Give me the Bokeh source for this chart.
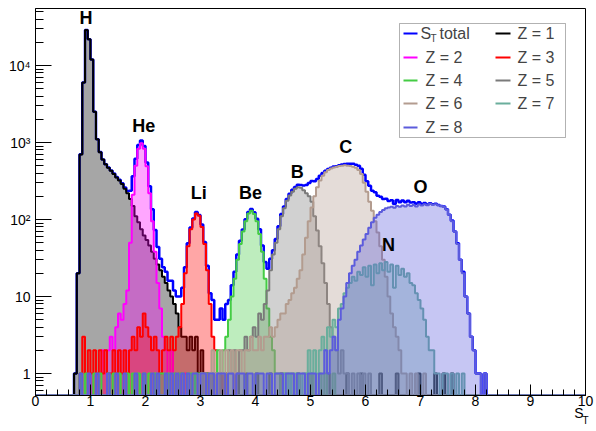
import numpy as np
from bokeh.plotting import figure
from bokeh.models import (Range1d, FixedTicker, SingleIntervalTicker, LinearAxis,
                          CustomJSTickFormatter, Label, BoxAnnotation)
from bokeh.embed import file_html
from bokeh.resources import INLINE
from bokeh.core.properties import value

# ---------------- data (bin width 0.05 in S_T, bins 0..10) ----------------
BIN_WIDTH = 0.05
N_BINS = 200

# Z = 1 (H), first bin starts at S_T = 0.65
z1_start = 13
z1_counts = [0, 1, 20, 700, 6000, 29000, 22000, 12000, 2500, 1100, 750, 600, 520, 470,
             430, 390, 350, 320, 290, 250, 220, 185, 150, 110, 92, 75, 62, 54, 46, 38,
             31, 26, 22, 18, 15, 12, 10, 8, 6, 4, 3, 3, 2, 3, 2, 3, 1, 2, 1, 1,
             0, 1, 0, 0, 1, 0, 1, 0, 0, 0, 1, 0, 0, 1, 0, 0, 0, 1, 0, 0, 0, 0, 1, 0,
             0, 0, 1, 0, 0, 0, 0, 0, 1, 0, 0, 0, 0, 1, 0, 0, 0, 0, 0, 1, 0, 0, 0, 0,
             0, 0, 1, 0, 0, 0, 0, 1, 0, 0, 0, 0, 0, 0, 1, 0, 0, 0, 0, 0, 1, 0, 0, 0,
             0, 0, 0, 0, 1, 0, 0, 0, 0, 0, 1, 0, 0, 1, 0, 0, 1]

# Z = 2 (He), first bin 0.95
z2_start = 19
z2_counts = [1, 0, 1, 1, 0, 2, 1, 2, 3, 2, 4, 6, 5, 8, 12, 50, 210, 500, 830, 980,
             830, 490, 220, 95, 38, 15, 7, 3, 2, 1, 2, 1, 0, 1, 0, 1]

# Z = 3 (Li), first bin 0.80
z3_start = 16
z3_counts = [1, 3, 1, 2, 1, 2, 1, 2, 1, 2, 1, 1, 2, 1, 2, 1, 2, 1, 2, 3, 2, 4, 3, 6,
             4, 3, 2, 3, 2, 1, 2, 3, 2, 3, 2, 3, 4, 8, 20, 45, 75, 100, 120, 112, 80,
             48, 22, 8, 3, 2, 1, 1, 0, 1, 0, 0, 1]

# Z = 4 (Be), first bin 0.80
z4_start = 16
z4_counts = [1, 0, 1, 0, 0, 1, 0, 1, 0, 0, 1, 0, 1, 0, 1, 0, 0, 1, 0, 1, 0, 1, 0, 1,
             0, 1, 0, 1, 0, 1, 1, 0, 1, 0, 1, 0, 1, 1, 0, 1, 1, 0, 1, 1, 1, 0, 1, 1,
             1, 1, 2, 1, 2, 3, 5, 10, 17, 30, 48, 70, 95, 120, 130, 118, 95, 65, 38,
             17, 7, 3, 2, 1, 1, 0, 1, 1, 0, 1, 0, 1, 0, 0, 1, 0, 1, 0, 0, 1, 0, 1,
             0, 0, 1]

# Z = 5 (B), first bin 3.00
z5_start = 60
z5_counts = [1, 0, 1, 0, 1, 1, 0, 1, 1, 1, 2, 1, 2, 1, 2, 2, 3, 2, 3, 4, 3, 6, 5, 8,
             12, 22, 35, 50, 75, 110, 140, 175, 205, 230, 250, 262, 258, 240, 220,
             200, 170, 110, 72, 45, 27, 15, 8, 4, 3, 2, 1, 2, 1, 1, 0, 1, 0, 1, 0,
             1, 0, 1]

# Z = 6 (C), first bin 3.00
z6_start = 60
z6_counts = [1, 1, 0, 1, 2, 1, 1, 2, 1, 2, 1, 2, 1, 2, 2, 1, 2, 2, 3, 2, 2, 3, 2, 3,
             3, 4, 3, 4, 5, 6, 6, 8, 9, 11, 13, 17, 22, 35, 58, 95, 143, 200, 262,
             320, 370, 410, 440, 460, 475, 485, 495, 500, 505, 500, 495, 485, 470,
             440, 390, 300, 230, 170, 130, 95, 68, 45, 30, 18, 10, 6, 4, 3, 2, 1, 1,
             0, 1, 0, 1, 0, 0, 1]

# Z = 7 (N), first bin 4.50
z7_start = 90
z7_counts = [1, 0, 1, 0, 1, 1, 0, 1, 1, 2, 1, 2, 1, 2, 3, 2, 4, 3, 5, 4, 7, 8, 11,
             13, 15, 18, 16, 21, 19, 24, 18, 25, 14, 26, 20, 27, 22, 28, 21, 26, 13,
             25, 19, 23, 18, 20, 15, 14, 11, 9, 7, 5, 3, 2, 2, 1, 1, 0, 1, 1, 0, 1,
             0, 1, 0, 1]

# Z = 8 (O), first bin 0.80
z8_start = 16
z8_counts = [1, 0, 0, 1, 0, 0, 1, 0, 0, 0, 1, 0, 0, 1, 0, 0, 1, 0, 0, 0, 1, 0, 0, 1,
             0, 0, 1, 0, 1, 0, 0, 1, 0, 1, 0, 1, 0, 1, 0, 1, 0, 1, 1, 0, 1, 1, 0, 1,
             1, 0, 1, 1, 1, 0, 1, 1, 0, 1, 1, 1, 0, 1, 1, 0, 1, 1, 1, 0, 1, 1, 0, 1,
             1, 1, 0, 1, 1, 1, 0, 1, 1, 1, 0, 1, 1, 1, 0, 1, 1, 2, 1, 2, 3, 2, 5, 7,
             10, 15, 20, 25, 30, 38, 46, 55, 65, 78, 92, 105, 115, 125, 133, 140,
             143, 146, 142, 150, 146, 152, 148, 155, 150, 154, 148, 157, 152, 158,
             153, 160, 156, 158, 153, 150, 145, 135, 115, 95, 70, 48, 30, 20, 10, 6,
             3, 2, 1, 1, 0, 1]

series_names = ["Z = 1", "Z = 2", "Z = 3", "Z = 4", "Z = 5", "Z = 6", "Z = 7", "Z = 8"]
series_starts = [z1_start, z2_start, z3_start, z4_start, z5_start, z6_start, z7_start, z8_start]
series_counts = [z1_counts, z2_counts, z3_counts, z4_counts, z5_counts, z6_counts, z7_counts, z8_counts]

element_labels = ["H", "He", "Li", "Be", "B", "C", "N", "O"]
element_label_x = [0.92, 1.97, 2.97, 3.91, 4.76, 5.64, 6.42, 7.0]
element_label_y = [4.1e4, 1660, 218, 218, 420, 865, 47, 267]

y_major_ticks = [1, 10, 100, 1000, 10000]

# ---------------- styling ----------------
line_colors = ["#000000", "#ff00ff", "#ff0000", "#44cc44", "#7a7a7a", "#b39c8f", "#6aae9c", "#5c5cdc"]
total_color = "#0000ff"
FONT = "Liberation Sans"
YMIN, YMAX = 0.518, 5.5e4

edges = np.arange(N_BINS + 1) * BIN_WIDTH


def full(start, counts):
    a = np.zeros(N_BINS)
    a[start:start + len(counts)] = counts
    return a


def steps(a):
    xs = np.repeat(edges, 2)[1:-1]
    ys = np.repeat(np.where(a > 0, a, YMIN), 2)
    return xs, ys


hists = [full(s, c) for s, c in zip(series_starts, series_counts)]
total = np.sum(hists, axis=0)

p = figure(width=596, height=431, x_range=Range1d(0, 10), y_range=Range1d(YMIN, YMAX),
           y_axis_type="log", output_backend="svg", toolbar_location=None,
           min_border_left=35, min_border_right=11, min_border_top=8, min_border_bottom=36)
p.xgrid.visible = False
p.ygrid.visible = False
p.outline_line_color = "black"
p.outline_line_width = 1
p.background_fill_color = "white"

# total first
tx, ty = steps(total)
p.line(tx, ty, line_color=total_color, line_width=2.5)

for h, col in zip(hists, line_colors):
    xs, ys = steps(h)
    p.varea(x=xs, y1=YMIN, y2=ys, fill_color=col, fill_alpha=0.35)
    p.line(xs, ys, line_color=col, line_width=2)

p.text(x=element_label_x, y=element_label_y, text=element_labels,
       text_font=value(FONT), text_font_style="bold", text_font_size="18px",
       text_align="center", text_baseline="middle", text_color="black")

# axes
minor_y = [m * 10 ** d for d in range(-1, 5) for m in range(2, 10) if YMIN < m * 10 ** d < YMAX]
p.yaxis.ticker = FixedTicker(ticks=y_major_ticks, minor_ticks=minor_y)
p.yaxis.formatter = CustomJSTickFormatter(code="""
const e = Math.round(Math.log10(tick));
if (e === 0) return "1";
if (e === 1) return "10";
const sup = {"0":"\u2070","1":"\u00b9","2":"\u00b2","3":"\u00b3","4":"\u2074","5":"\u2075","6":"\u2076","7":"\u2077","8":"\u2078","9":"\u2079"};
return "10" + String(e).split("").map(c => sup[c]).join("");
""")
p.xaxis.ticker = SingleIntervalTicker(interval=1, num_minor_ticks=5)
for ax in (p.xaxis, p.yaxis):
    ax.major_label_text_font = FONT
    ax.major_label_text_font_size = "14px"
    ax.major_label_text_color = "black"
    ax.axis_line_color = "black"
    ax.major_tick_line_color = "black"
    ax.minor_tick_line_color = "black"
    ax.major_tick_out = 0
    ax.minor_tick_out = 0
p.xaxis.major_tick_in = 11
p.xaxis.minor_tick_in = 6
p.xaxis.major_label_standoff = 0
p.yaxis.major_tick_in = 16
p.yaxis.minor_tick_in = 8
p.yaxis.major_label_standoff = 5

# x-axis title S_T, written as tick labels of two bare axes below the main one
def title_axis(tick, txt, size, standoff):
    ax = LinearAxis(ticker=FixedTicker(ticks=[tick], minor_ticks=[]),
                    formatter=CustomJSTickFormatter(code='return "%s";' % txt))
    ax.axis_line_color = None
    ax.major_tick_line_color = None
    ax.minor_tick_line_color = None
    ax.major_tick_in = 0
    ax.major_tick_out = 0
    ax.minor_tick_in = 0
    ax.minor_tick_out = 0
    ax.major_label_text_font = FONT
    ax.major_label_text_font_size = size
    ax.major_label_text_color = "black"
    ax.major_label_standoff = standoff
    return ax


p.add_layout(title_axis(9.88, "S", "14px", -4), "below")
p.add_layout(title_axis(10.0, "T", "10px", -9), "below")

# legend (manual, to allow the subscript); screen units from frame bottom-left
p.add_layout(BoxAnnotation(left=364, right=530, top=372, bottom=258,
                           left_units="screen", right_units="screen",
                           top_units="screen", bottom_units="screen",
                           fill_color="white", fill_alpha=1.0,
                           line_color="black", line_width=1, level="annotation"))
row_y = [362, 338, 315, 292, 268]
legend_entries = [
    (0, 0, "total", total_color),
    (1, 0, "Z = 1", line_colors[0]),
    (0, 1, "Z = 2", line_colors[1]),
    (1, 1, "Z = 3", line_colors[2]),
    (0, 2, "Z = 4", line_colors[3]),
    (1, 2, "Z = 5", line_colors[4]),
    (0, 3, "Z = 6", line_colors[5]),
    (1, 3, "Z = 7", line_colors[6]),
    (0, 4, "Z = 8", line_colors[7]),
]
col_line_x = [(368, 382), (460, 475)]
col_text_x = [390, 482]
for col, row, txt, colr in legend_entries:
    y = row_y[row]
    l, r = col_line_x[col]
    p.add_layout(BoxAnnotation(left=l, right=r, top=y + 1, bottom=y - 1,
                               left_units="screen", right_units="screen",
                               top_units="screen", bottom_units="screen",
                               fill_color=colr, fill_alpha=1.0, line_alpha=0,
                               level="annotation"))
    if txt == "total":
        p.add_layout(Label(x=385, y=y, x_units="screen", y_units="screen", text="S",
                           text_font=FONT, text_font_size="16px", text_baseline="middle"))
        p.add_layout(Label(x=395, y=y - 5, x_units="screen", y_units="screen", text="T",
                           text_font=FONT, text_font_size="10px", text_baseline="middle"))
        p.add_layout(Label(x=404, y=y, x_units="screen", y_units="screen", text="total",
                           text_font=FONT, text_font_size="16px", text_baseline="middle"))
    else:
        p.add_layout(Label(x=col_text_x[col], y=y, x_units="screen", y_units="screen",
                           text=txt, text_font=FONT, text_font_size="16px",
                           text_baseline="middle"))

open("out.html", "w").write(file_html(p, INLINE))
